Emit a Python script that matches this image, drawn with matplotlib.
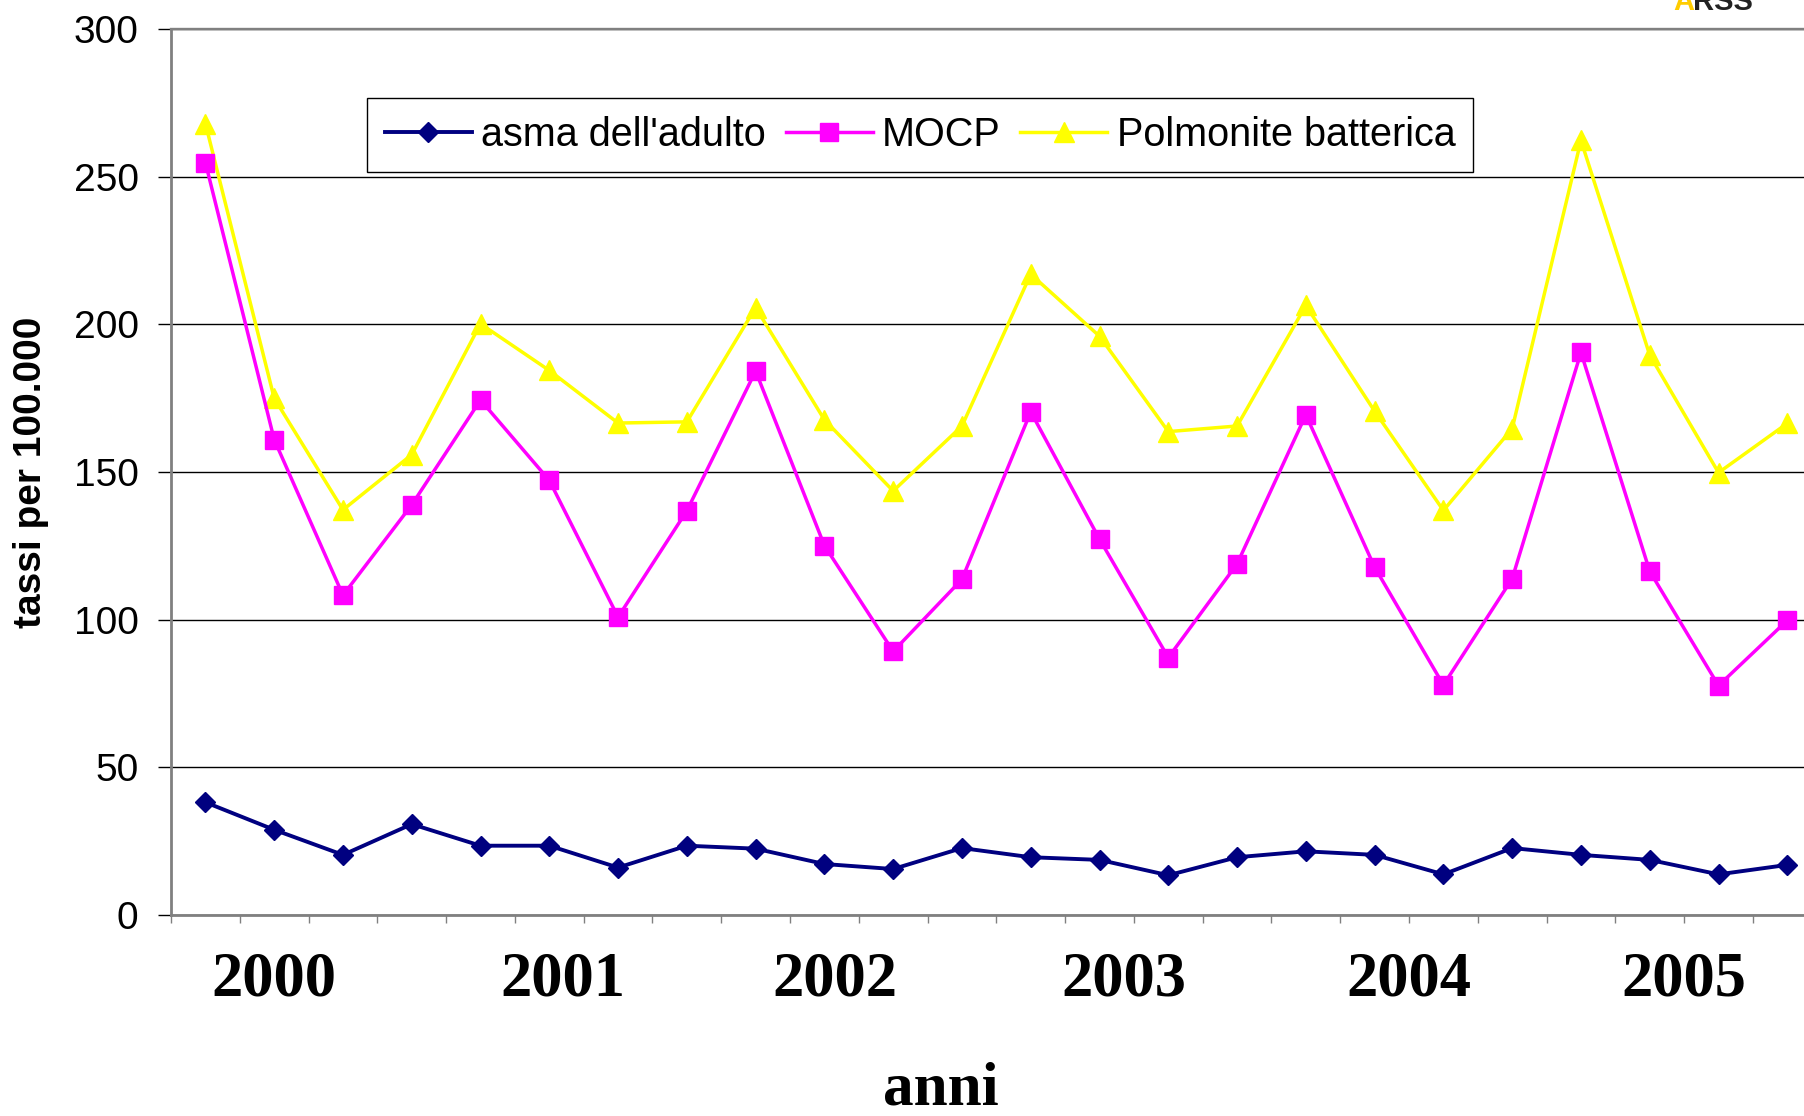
import numpy as np
import matplotlib
matplotlib.use('Agg')
import matplotlib.pyplot as plt

# quarterly rates 2000-2005
trimestri = ['I-00', 'II-00', 'III-00', 'IV-00', 'I-01', 'II-01', 'III-01', 'IV-01',
             'I-02', 'II-02', 'III-02', 'IV-02', 'I-03', 'II-03', 'III-03', 'IV-03',
             'I-04', 'II-04', 'III-04', 'IV-04', 'I-05', 'II-05', 'III-05', 'IV-05']
asma = [38.2, 28.9, 20.4, 30.8, 23.5, 23.5, 16.1, 23.5, 22.5, 17.3, 15.6, 22.7,
        19.6, 18.7, 13.5, 19.6, 21.6, 20.4, 13.8, 22.7, 20.4, 18.7, 13.8, 17.0]
mocp = [254.8, 161.0, 108.3, 138.9, 174.4, 147.2, 100.9, 136.9, 184.2, 125.1, 89.3, 113.7,
        170.4, 127.3, 87.2, 118.9, 169.4, 117.8, 77.9, 113.9, 190.5, 116.4, 77.7, 99.8]
polmonite = [268.0, 175.0, 137.2, 155.9, 200.2, 184.4, 166.6, 167.0, 205.7, 167.7, 143.6, 165.6,
             217.0, 196.0, 163.7, 165.6, 206.4, 170.6, 137.0, 164.7, 262.3, 189.6, 149.8, 166.5]
anni = ['2000', '2001', '2002', '2003', '2004', '2005']
anni_pos = [1.0, 5.2, 9.15, 13.35, 17.5, 21.5]

x = np.arange(len(trimestri))

fig = plt.figure(figsize=(18.04, 11.16), dpi=100)
ax = fig.add_axes([0.0948, 0.180, 0.915, 0.794])

ax.plot(x, asma, color='#000080', lw=2.8, marker='D', ms=10.5, mec='#000080',
        label="asma dell'adulto", zorder=4)
ax.plot(x, mocp, color='#FF00FF', lw=2.5, marker='s', ms=12.5, mec='#FF00FF',
        label='MOCP', zorder=3)
ax.plot(x, polmonite, color='#FFFF00', lw=2.5, marker='^', ms=15, mec='#FFFF00',
        label='Polmonite batterica', zorder=2)

ax.set_xlim(-0.5, len(trimestri) - 0.5)
ax.set_ylim(0, 300)
ax.set_yticks(range(0, 301, 50))
ax.yaxis.grid(True, color='black', lw=1)
ax.set_axisbelow(True)

ax.set_xticks([])
ax.set_xticks(np.arange(-0.5, len(trimestri)), minor=True)
ax.tick_params(axis='x', which='minor', direction='out', length=6, width=1, color='#808080')
ax.tick_params(axis='y', direction='out', length=9.4, width=1, color='black', pad=14,
               labelsize=28)
for lab in ax.get_yticklabels():
    lab.set_fontfamily('Liberation Sans')

for side in ['left', 'bottom']:
    ax.spines[side].set_color('#808080')
    ax.spines[side].set_linewidth(2)
ax.spines['top'].set_color('#808080')
ax.spines['top'].set_linewidth(1.7)
ax.spines['right'].set_visible(False)

# year labels under the quarters
for pos, anno in zip(anni_pos, anni):
    ax.text(pos, -0.0903, anno, transform=ax.get_xaxis_transform(), ha='center',
            va='baseline', fontsize=45, fontweight='bold', family='Liberation Serif')

fig.text(0.5215, 0.0099, 'anni', ha='center', va='baseline', fontsize=44,
         fontweight='bold', family='Liberation Serif')
fig.text(0.0172, 0.577, 'tassi per 100.000', rotation=90, ha='center', va='center',
         fontsize=28, fontweight='bold', family='Liberation Sans')

leg = ax.legend(loc='upper left', bbox_to_anchor=(0.1188, 0.922), borderaxespad=0,
                ncol=3, fancybox=False, framealpha=1, edgecolor='black',
                prop={'family': 'Liberation Sans', 'size': 28.5},
                handlelength=2.2, handletextpad=0.23, columnspacing=0.5, borderpad=0.45)
leg.get_frame().set_linewidth(1)

# logo (runs off the top edge)
fig.text(0.9274, 0.991, 'A', color='#FFCC00', fontsize=21, fontweight='bold',
         family='Liberation Sans', va='baseline')
fig.text(0.9385, 0.991, 'RSS', color='#222222', fontsize=21, fontweight='bold',
         family='Liberation Sans', va='baseline')

fig.savefig('out.png', dpi=100)
